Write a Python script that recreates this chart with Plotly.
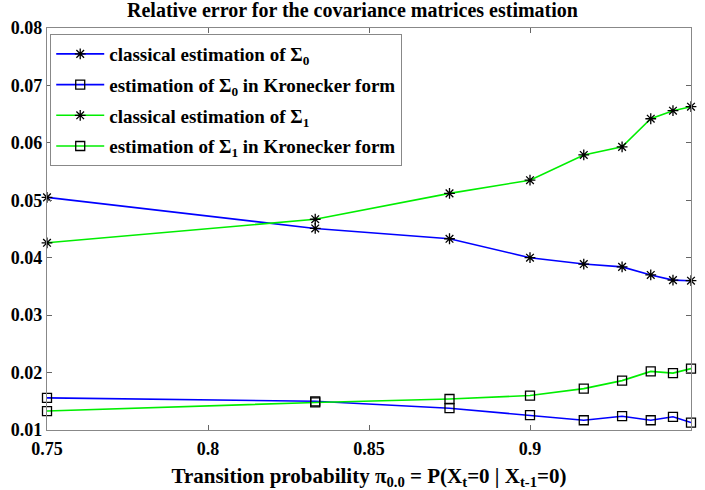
import plotly.graph_objects as go

x_vals = [0.75, 0.8333, 0.875, 0.9, 0.9167, 0.9286, 0.9375, 0.9444, 0.95]
sigma0_classical = [0.0505, 0.0451, 0.0433, 0.0400, 0.0389, 0.0384, 0.0370, 0.0361, 0.0360]
sigma0_kronecker = [0.0156, 0.0150, 0.0138, 0.0126, 0.0117, 0.0124, 0.0117, 0.0123, 0.0113]
sigma1_classical = [0.0426, 0.0467, 0.0512, 0.0535, 0.0579, 0.0593, 0.0642, 0.0656, 0.0663]
sigma1_kronecker = [0.0133, 0.0148, 0.0154, 0.0160, 0.0172, 0.0186, 0.0202, 0.0199, 0.0207]

x_ticks = [0.75, 0.8, 0.85, 0.9, 0.95]
x_tick_labels = ["0.75", "0.8", "0.85", "0.9", "0.95"]
y_ticks = [0.01, 0.02, 0.03, 0.04, 0.05, 0.06, 0.07, 0.08]
y_tick_labels = ["0.01", "0.02", "0.03", "0.04", "0.05", "0.06", "0.07", "0.08"]

names = [
    "classical estimation of Σ<sub>0</sub>",
    "estimation of Σ<sub>0</sub> in Kronecker form",
    "classical estimation of Σ<sub>1</sub>",
    "estimation of Σ<sub>1</sub> in Kronecker form",
]
series = [sigma0_classical, sigma0_kronecker, sigma1_classical, sigma1_kronecker]
colors = ["#0000ff", "#0000ff", "#00ee00", "#00ee00"]
symbols = ["asterisk-open", "square-open", "asterisk-open", "square-open"]

FONT = "Liberation Serif"

fig = go.Figure()
for i, (name, ys, c, s) in enumerate(zip(names, series, colors, symbols)):
    fig.add_trace(go.Scatter(
        x=x_vals, y=ys, name="<b>%s</b>" % name, mode="lines+markers",
        legendgroup="g%d" % i,
        line=dict(color=c, width=1.6),
        marker=dict(symbol=s, size=9, color="black",
                    line=dict(color="black", width=1.3)),
        cliponaxis=False,
    ))

fig.update_layout(
    width=705, height=490,
    margin=dict(l=47, r=14, t=28, b=60, autoexpand=False),
    paper_bgcolor="white", plot_bgcolor="white",
    font=dict(family=FONT, size=18, color="black"),
    title=dict(text="<b>Relative error for the covariance matrices estimation</b>",
               x=0.5, xanchor="center", y=0.98, yanchor="middle",
               font=dict(family=FONT, size=20, color="black")),
    showlegend=True,
    legend=dict(x=0.005, y=0.985, xanchor="left", yanchor="top",
                bgcolor="white", bordercolor="#888888", borderwidth=1,
                font=dict(family=FONT, size=19, color="black"),
                tracegroupgap=3, itemwidth=48),
    xaxis=dict(range=[0.75, 0.95], tickvals=x_ticks, ticktext=["<b>%s</b>" % t for t in x_tick_labels],
               ticks="inside", ticklen=5, tickcolor="#666666",
               showline=True, linecolor="#888888", linewidth=1.2, mirror="ticks",
               showgrid=False, zeroline=False, ticklabelstandoff=2, automargin=False,
               tickfont=dict(family=FONT, size=18, color="black"),
               title=dict(text="<b>Transition probability π<sub>0.0</sub> = P(X<sub>t</sub>=0 | X<sub>t-1</sub>=0)</b>",
                          font=dict(family=FONT, size=21, color="black"))),
    yaxis=dict(range=[0.01, 0.08], tickvals=y_ticks, ticktext=["<b>%s</b>" % t for t in y_tick_labels],
               ticks="inside", ticklen=5, tickcolor="#666666",
               showline=True, linecolor="#888888", linewidth=1.2, mirror="ticks",
               showgrid=False, zeroline=False, automargin=False,
               tickfont=dict(family=FONT, size=18, color="black")),
)

fig.write_html("out.html")
